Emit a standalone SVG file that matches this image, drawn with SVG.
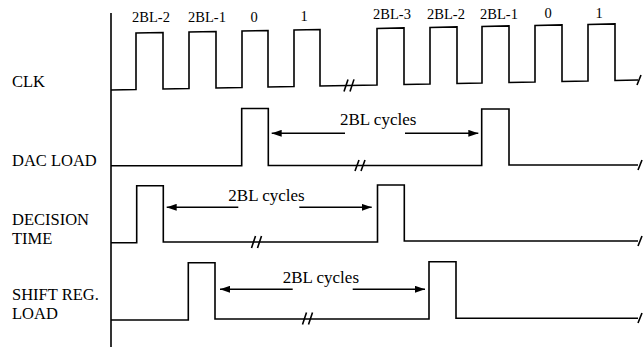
<svg xmlns="http://www.w3.org/2000/svg" width="643" height="348" viewBox="0 0 643 348">
<style>
.w{fill:none;stroke:#000;stroke-width:1.6;stroke-linejoin:miter;stroke-linecap:butt}
.t{font-family:'Liberation Serif','Times New Roman','DejaVu Serif',serif;fill:#000}
.lbl{font-size:16.5px}
.num{font-size:14.5px;text-anchor:middle}
.cyc{font-size:17px}
.arr{fill:none;stroke:#000;stroke-width:1.4;marker-end:url(#ah)}
</style>
<defs>
<marker id="ah" markerUnits="userSpaceOnUse" markerWidth="10" markerHeight="7" refX="10" refY="3.5" orient="auto">
<path d="M0,0 L10,3.5 L0,7 z" fill="#000"/>
</marker>
</defs>
<rect width="643" height="348" fill="#fff"/>
<g id="axis"><path class="w" d="M111,13 V347"/></g>

<g id="clk" font-family="Liberation Serif, DejaVu Serif, serif">
<text class="t lbl" x="12" y="87">CLK</text>
<g transform="matrix(1,-0.019,0,1,0,2.11)">
<path class="w" d="M111,90 H136 V33.5 H163 V90 H189 V33.5 H216 V90 H242 V33.5 H268 V90 H294 V33.5 H320 V90 H377 V33.5 H404 V90 H430 V33.5 H457 V90 H482 V33.5 H509 V90 H535 V33.5 H562 V90 H588 V33.5 H615 V90 H638"/>
<path class="w" d="M344,96 L348,84 M350,96 L354,84 M637,95 L641,85"/>
</g>
<text class="t num" x="151" y="22">2BL-2</text>
<text class="t num" x="207" y="22">2BL-1</text>
<text class="t num" x="254" y="21.5">0</text>
<text class="t num" x="304" y="21">1</text>
<text class="t num" x="392" y="18.5">2BL-3</text>
<text class="t num" x="446" y="18.5">2BL-2</text>
<text class="t num" x="499" y="18.5">2BL-1</text>
<text class="t num" x="548" y="18">0</text>
<text class="t num" x="599" y="18">1</text>
</g>

<g id="dac-load">
<text class="t lbl" x="12" y="166">DAC LOAD</text>
<path class="w" d="M111,165.7 H241.7 V108.5 H268.3 V165.5 H481.7 V109 H509 V165 H638"/>
<path class="w" d="M355,171 L359,160 M361,171 L365,160 M638,170 L642,160"/>
<text class="t cyc" x="340" y="125">2BL cycles</text>
</g>

<g id="decision-time">
<text class="t lbl" x="12" y="225">DECISION</text>
<text class="t lbl" x="12" y="243.5">TIME</text>
<path class="w" d="M111,242.7 H136.7 V185.7 H163.3 V242 H377.5 V185 H404.3 V241 H638"/>
<path class="w" d="M251.5,248 L255.5,236 M257.5,248 L261.5,236 M638,246 L642,236"/>
<text class="t cyc" x="228.3" y="201">2BL cycles</text>
</g>

<g id="shift-reg-load">
<text class="t lbl" x="12" y="300">SHIFT REG.</text>
<text class="t lbl" x="12" y="318.5">LOAD</text>
<path class="w" d="M111,320 H188.3 V262.7 H215 V319 H429 V261.7 H456 V318.3 H638"/>
<path class="w" d="M302.5,324.5 L306.5,312.5 M308.5,324.5 L312.5,312.5 M638,323 L642,313"/>
<text class="t cyc" x="282.7" y="282.7">2BL cycles</text>
</g>

<g id="connectors">
<path class="arr" d="M345,133.3 H271.7"/>
<path class="arr" d="M405,133.3 H478.3"/>
<path class="arr" d="M238.3,207.3 H166.7"/>
<path class="arr" d="M299.3,207.3 H371.7"/>
<path class="arr" d="M292.7,289.3 H220"/>
<path class="arr" d="M352.7,289.3 H425"/>
</g>
</svg>
